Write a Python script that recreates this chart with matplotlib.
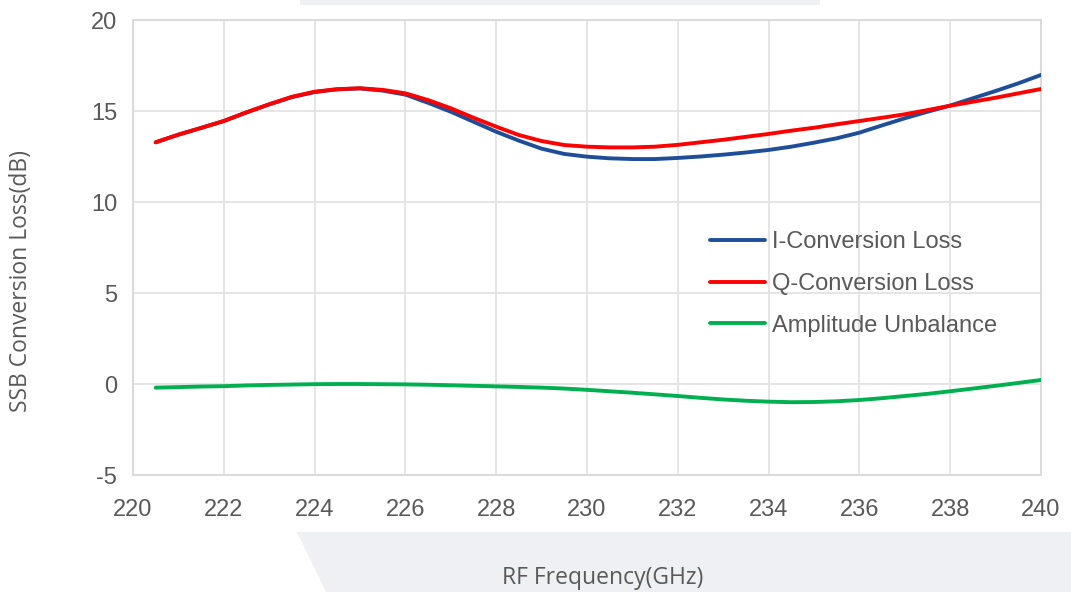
import matplotlib
matplotlib.use("Agg")
import matplotlib.pyplot as plt
from matplotlib.patches import Polygon, Rectangle

plt.rcParams["axes.unicode_minus"] = False

freq = [220.5, 221, 221.5, 222, 222.5, 223, 223.5, 224, 224.5, 225, 225.5, 226,
        226.5, 227, 227.5, 228, 228.5, 229, 229.5, 230, 230.5, 231, 231.5, 232,
        232.5, 233, 233.5, 234, 234.5, 235, 235.5, 236, 236.5, 237, 237.5, 238,
        238.5, 239, 239.5, 240]
i_loss = [13.28, 13.70, 14.07, 14.45, 14.92, 15.36, 15.76, 16.04, 16.19, 16.24,
          16.12, 15.90, 15.45, 14.96, 14.41, 13.86, 13.37, 12.93, 12.64, 12.49,
          12.40, 12.36, 12.36, 12.42, 12.50, 12.60, 12.72, 12.86, 13.04, 13.26,
          13.50, 13.81, 14.21, 14.60, 14.96, 15.30, 15.70, 16.10, 16.52, 16.98]
q_loss = [13.28, 13.70, 14.07, 14.45, 14.93, 15.37, 15.78, 16.06, 16.20, 16.25,
          16.16, 15.97, 15.60, 15.15, 14.63, 14.14, 13.68, 13.35, 13.13, 13.04,
          13.00, 13.00, 13.04, 13.14, 13.28, 13.42, 13.58, 13.74, 13.92, 14.08,
          14.27, 14.45, 14.63, 14.82, 15.05, 15.29, 15.51, 15.73, 15.97, 16.21]
amp_unbal = [-0.20, -0.17, -0.14, -0.12, -0.08, -0.05, -0.03, -0.01, 0.00, 0.00,
             -0.01, -0.02, -0.04, -0.07, -0.10, -0.13, -0.16, -0.20, -0.25, -0.32,
             -0.40, -0.48, -0.57, -0.66, -0.76, -0.85, -0.92, -0.97, -1.00, -0.99,
             -0.95, -0.88, -0.78, -0.66, -0.54, -0.40, -0.25, -0.10, 0.06, 0.22]
series_names = ["I-Conversion Loss", "Q-Conversion Loss", "Amplitude Unbalance"]
series_colors = ["#1F4E99", "#FF0000", "#00B050"]
x_ticks = list(range(220, 241, 2))
y_ticks = [-5, 0, 5, 10, 15, 20]

W, H = 1071, 592
fig = plt.figure(figsize=(W / 100, H / 100), dpi=100)
fig.patch.set_facecolor("white")

# decorative background shapes
bg = "#EFF0F4"
fig.patches.append(Rectangle((300 / W, 1 - 5 / H), 520 / W, 5 / H,
                             transform=fig.transFigure, facecolor=bg,
                             edgecolor="none", zorder=0))
fig.patches.append(Polygon([(297 / W, 1 - 532 / H), (1.0, 1 - 532 / H),
                            (1.0, 0.0), (326 / W, 0.0)], closed=True,
                           transform=fig.transFigure, facecolor=bg,
                           edgecolor="none", zorder=0))

ax = fig.add_axes([133 / W, 1 - 475 / H, (1041 - 133) / W, (475 - 20) / H])
ax.set_facecolor("white")

for ys, name, col in zip([i_loss, q_loss, amp_unbal], series_names, series_colors):
    ax.plot(freq, ys, color=col, lw=2.8, label=name, solid_capstyle="round",
            solid_joinstyle="round", zorder=3)

ax.set_xlim(220, 240)
ax.set_ylim(-5, 20)
ax.set_xticks(x_ticks)
ax.set_yticks(y_ticks)
ax.set_xticklabels([str(v) for v in x_ticks])
ax.set_yticklabels([str(v) for v in y_ticks])
ax.grid(True, color="#E3E3E3", lw=1.3, zorder=0)
ax.set_axisbelow(True)
for s in ax.spines.values():
    s.set_color("#D9D9D9")
    s.set_linewidth(1.3)

ax.tick_params(axis="both", length=0, colors="#595959")
ax.tick_params(axis="x", pad=17)
ax.tick_params(axis="y", pad=11.5)
for lab in ax.get_xticklabels() + ax.get_yticklabels():
    lab.set_fontfamily(["Liberation Sans", "DejaVu Sans"])
    lab.set_fontsize(17)
    lab.set_color("#595959")

fig.text(603 / W, 1 - 578 / H, "RF Frequency(GHz)", ha="center", va="center",
         fontsize=16.5, color="#595959", family=["Open Sans", "DejaVu Sans"])
fig.text(21 / W, 1 - 281 / H, "SSB Conversion Loss(dB)", ha="center", va="center",
         rotation=90, fontsize=16.5, color="#595959", family=["Open Sans", "DejaVu Sans"])

leg = ax.legend(loc="upper left",
                bbox_to_anchor=((710 - 133) / (1041 - 133), (475 - 231) / 455),
                frameon=False, prop=dict(family="Liberation Sans", size=17),
                handlelength=2.33, handletextpad=0.3, labelspacing=0.84,
                borderaxespad=0, borderpad=0)
for t in leg.get_texts():
    t.set_color("#595959")

fig.savefig("out.png", dpi=100, facecolor="white")
